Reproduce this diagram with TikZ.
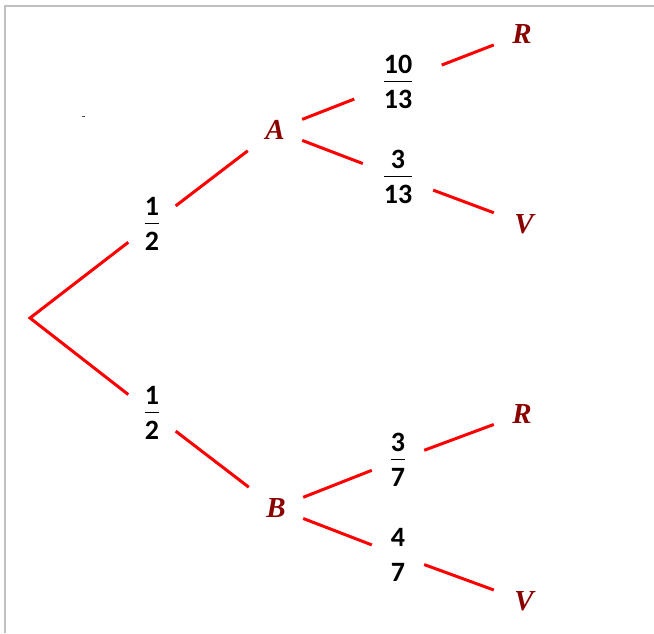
\documentclass[tikz,border=0pt]{standalone}
\usepackage{fontspec}
\setmainfont{Carlito}
\newfontfamily\letterfont{Liberation Serif}
\definecolor{lettercol}{RGB}{139,0,0}
\definecolor{branchred}{RGB}{255,0,0}
\definecolor{framegray}{RGB}{192,192,192}
\setlength\arrayrulewidth{1pt}
\newcommand\fr[2]{\begin{tabular}{@{}c@{}}\rule{0pt}{27.6pt}#1\\[-2.25pt]\hline\rule{0pt}{26.35pt}#2\end{tabular}}
\newcommand\st[2]{\begin{tabular}{@{}c@{}}\rule{0pt}{27.6pt}#1\\[-1pt]\rule{0pt}{25.6pt}#2\end{tabular}}
\begin{document}
\begin{tikzpicture}[x=1pt,y=-1pt,
  letter/.style={text=lettercol,font=\letterfont\fontsize{29}{34}\selectfont\bfseries\itshape,
    inner sep=0pt,minimum height=60pt},
  prob/.style={font=\fontsize{28}{33}\selectfont\bfseries,inner sep=0pt,minimum height=70pt},
  branch/.style={draw=branchred,line width=3pt}]
\useasboundingbox (0,0) rectangle (654,633);
% frame
\draw[framegray,line width=2pt] (5,633) -- (5,6) -- (654,6);
\draw[black!70,line width=0.8pt] (82,116.5) -- (85,116.5);
% nodes
\coordinate (root) at (30,318);
\node[prob,minimum width=47pt] (h1) at (152,224) {\fr{1}{2}};
\node[prob,minimum width=47pt] (h2) at (152,413) {\fr{1}{2}};
\node[letter,minimum width=54pt] (A) at (275,130) {A};
\node[letter,minimum width=54pt] (B) at (276,508) {B};
\node[prob,minimum width=87pt] (p1) at (398,82) {\fr{10}{13}};
\node[prob,minimum width=70pt] (p2) at (398,177) {\fr{3}{13}};
\node[prob,minimum width=52pt] (p3) at (398,460) {\fr{3}{7}};
\node[prob,minimum width=52pt] (p4) at (398,555) {\st{4}{7}};
\node[letter,minimum width=56pt] (R1) at (522,34) {R};
\node[letter,minimum width=60pt] (V1) at (524,224) {V};
\node[letter,minimum width=56pt] (R2) at (522,414) {R};
\node[letter,minimum width=60pt] (V2) at (524,601) {V};
% branches
\draw[branch] (h1) -- (root) -- (h2);
\draw[branch] (h1) -- (A);
\draw[branch] (h2) -- (B);
\draw[branch] (A) -- (p1);
\draw[branch] (p1) -- (R1);
\draw[branch] (A) -- (p2);
\draw[branch] (p2) -- (V1);
\draw[branch] (B) -- (p3);
\draw[branch] (p3) -- (R2);
\draw[branch] (B) -- (p4);
\draw[branch] (p4) -- (V2);
\end{tikzpicture}
\end{document}
